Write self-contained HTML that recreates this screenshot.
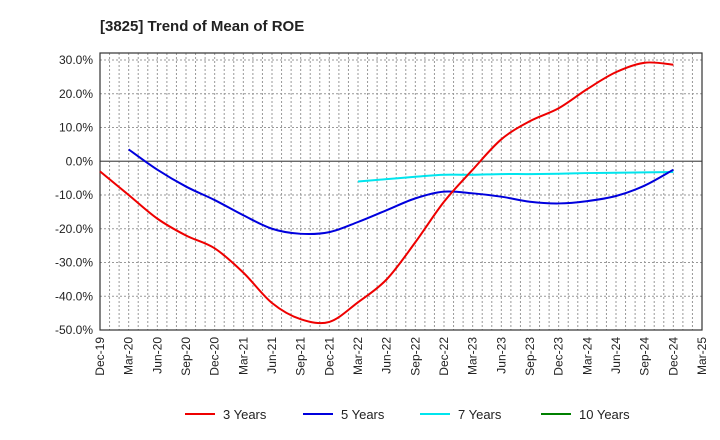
<!DOCTYPE html>
<html><head><meta charset="utf-8"><style>
body{margin:0;background:#fff;font-family:"Liberation Sans",sans-serif}
svg{display:block}
</style></head><body>
<svg id="c" width="720" height="440" xmlns="http://www.w3.org/2000/svg">
<text x="100" y="31" font-size="15" font-weight="bold" fill="#222">[3825]  Trend of Mean of ROE</text>
</svg>
<script>
const xLabels=["Dec-19","Mar-20","Jun-20","Sep-20","Dec-20","Mar-21","Jun-21","Sep-21","Dec-21","Mar-22","Jun-22","Sep-22","Dec-22","Mar-23","Jun-23","Sep-23","Dec-23","Mar-24","Jun-24","Sep-24","Dec-24","Mar-25"];
const yTicks=[30,20,10,0,-10,-20,-30,-40,-50];
const s3=[-3,-10,-17,-22,-25.8,-33,-42,-46.8,-47.6,-41.8,-35,-24,-12,-2.5,6.5,11.9,15.7,21.4,26.4,29.2,28.6];
const s5=[null,3.5,-2.5,-7.5,-11.5,-16,-20,-21.5,-21,-18,-14.5,-11,-9,-9.5,-10.5,-12,-12.5,-11.8,-10.3,-7.2,-2.5];
const s7=[null,null,null,null,null,null,null,null,null,-6,-5.3,-4.6,-4,-4,-3.8,-3.8,-3.7,-3.5,-3.4,-3.3,-3.2];
const s10=[];
const NS="http://www.w3.org/2000/svg",svg=document.getElementById('c');
const L=100,R=702,T=53,B=330,yMax=30,yMin=-50,yTop=60;
const xs=i=>L+i*(R-L)/(xLabels.length-1);
const ys=v=>yTop+(yMax-v)*(B-yTop)/(yMax-yMin);
function mk(t,a){const e=document.createElementNS(NS,t);for(const k in a)e.setAttribute(k,a[k]);svg.appendChild(e);return e;}
// vertical monthly grid
for(let m=1;m<(xLabels.length-1)*3;m++){const x=L+m*(R-L)/((xLabels.length-1)*3);
const g=mk('line',{x1:x,x2:x,y1:T,y2:B,stroke:'#999','stroke-dasharray':'2,2','stroke-width':1});

}
yTicks.forEach(v=>{const y=ys(v);
const g=mk('line',{x1:L,x2:R,y1:y,y2:y,stroke:v===0?'#555':'#999','stroke-dasharray':v===0?'':'2,2','stroke-width':v===0?1.3:1});


const t=mk('text',{x:93,y:y+4,'text-anchor':'end','font-size':12,fill:'#222'});t.textContent=v.toFixed(1)+'%';

});
const fr=mk('rect',{x:L,y:T,width:R-L,height:B-T,fill:'none',stroke:'#333','stroke-width':1.2});


xLabels.forEach((l,i)=>{const x=xs(i);
const t=mk('text',{transform:`translate(${x+4},337) rotate(-90)`,'text-anchor':'end','font-size':12,fill:'#222'});t.textContent=l;

});
function path(data,color,name){const p=[];data.forEach((v,i)=>{if(v!=null)p.push([xs(i),ys(v)]);});if(p.length<2)return;
let d=`M${p[0][0]},${p[0][1]}`;
for(let i=0;i<p.length-1;i++){const p0=p[i-1]||p[i],p1=p[i],p2=p[i+1],p3=p[i+2]||p2;
d+=` C${p1[0]+(p2[0]-p0[0])/6},${p1[1]+(p2[1]-p0[1])/6} ${p2[0]-(p3[0]-p1[0])/6},${p2[1]-(p3[1]-p1[1])/6} ${p2[0]},${p2[1]}`;}
const e=mk('path',{d,fill:'none',stroke:color,'stroke-width':2});

}
path(s7,'#00e5ee','series-7-years');
path(s5,'#0000dd','series-5-years');
path(s3,'#ee0000','series-3-years');
path(s10,'#008000','series-10-years');
[['3 Years','#ee0000',185],['5 Years','#0000dd',303],['7 Years','#00e5ee',420],['10 Years','#008000',541]].forEach(([n,c,x])=>{
const g=document.createElementNS(NS,'g');svg.appendChild(g);


const ln=document.createElementNS(NS,'line');for(const[k,v]of Object.entries({x1:x,x2:x+30,y1:414,y2:414,stroke:c,'stroke-width':2}))ln.setAttribute(k,v);g.appendChild(ln);
const t=document.createElementNS(NS,'text');for(const[k,v]of Object.entries({x:x+38,y:419,'font-size':13,fill:'#222'}))t.setAttribute(k,v);t.textContent=n;g.appendChild(t);});
</script>
</body></html>
